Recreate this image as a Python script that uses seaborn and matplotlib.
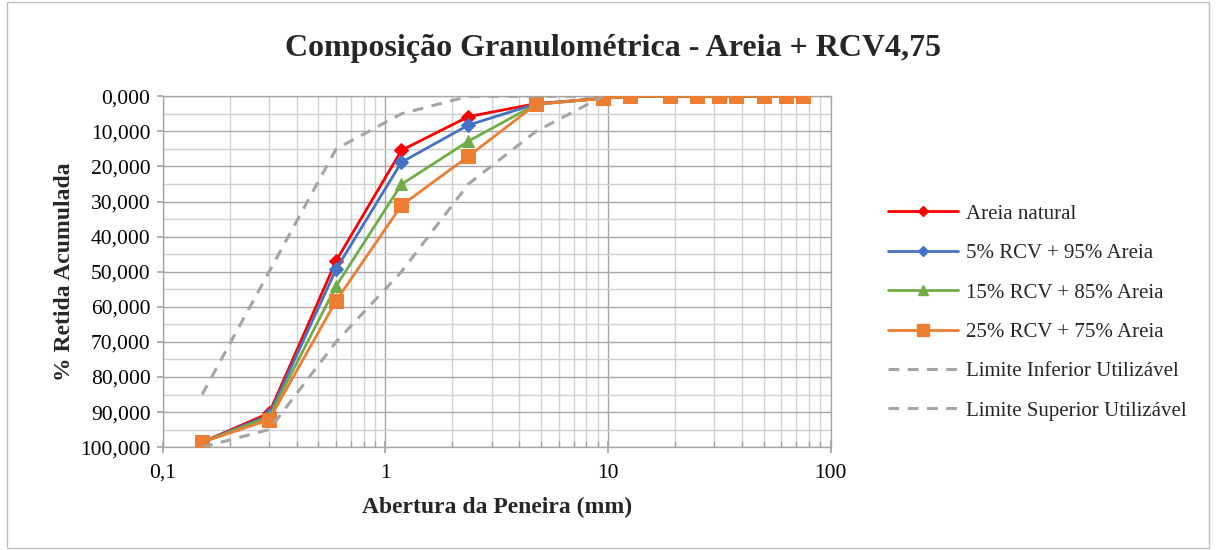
import numpy as np
import pandas as pd
import matplotlib
matplotlib.use("Agg")
import matplotlib.pyplot as plt
import matplotlib.ticker as mticker
from matplotlib.lines import Line2D
from matplotlib.patches import Rectangle
import seaborn as sns

# ---------------- data ----------------
sieves = [0.15, 0.3, 0.6, 1.18, 2.36, 4.75, 9.5, 12.5, 19, 25, 31.5, 37.5, 50, 63, 75]
areia_natural = [98.6, 90.3, 46.9, 15.4, 5.8, 2.1, 0.6, 0, 0, 0, 0, 0, 0, 0, 0]
rcv5 = [98.6, 90.9, 49.3, 18.8, 8.2, 2.2, 0.6, 0, 0, 0, 0, 0, 0, 0, 0]
rcv15 = [98.6, 91.4, 54.1, 25.1, 12.8, 2.3, 0.6, 0, 0, 0, 0, 0, 0, 0, 0]
rcv25 = [98.6, 92.2, 58.3, 31.1, 17.1, 2.3, 0.6, 0, 0, 0, 0, 0, 0, 0, 0]

lim_sieves = [0.15, 0.3, 0.6, 1.18, 2.36, 4.75, 9.5]
lim_inferior = [85, 50, 15, 5, 0, 0, 0]
lim_superior = [100, 95, 70, 50, 25, 10, 0]

series_names = ["Areia natural", "5% RCV + 95% Areia", "15% RCV + 85% Areia", "25% RCV + 75% Areia"]
series_vals = [areia_natural, rcv5, rcv15, rcv25]
series_colors = ["#FF0000", "#4472C4", "#70AD47", "#ED7D31"]
series_markers = ["D", "D", "^", "s"]
series_msizes = [7, 7, 9, 10]

limit_names = ["Limite Inferior Utilizável", "Limite Superior Utilizável"]
limit_vals = [lim_inferior, lim_superior]

title = "Composição Granulométrica - Areia + RCV4,75"
xlabel = "Abertura da Peneira (mm)"
ylabel = "% Retida Acumulada"

# ---------------- plot ----------------
sns.set_theme(style="white")
plt.rcParams["font.family"] = ["Liberation Serif", "DejaVu Serif"]

fig = plt.figure(figsize=(12.16, 5.5), dpi=100)
ax = fig.add_axes([0.134, 0.187, 0.549, 0.638])

handles = []
for name, vals, c, m, ms in zip(series_names, series_vals, series_colors, series_markers, series_msizes):
    df = pd.DataFrame({"x": sieves, "y": vals})
    sns.lineplot(data=df, x="x", y="y", ax=ax, color=c, marker=m, markersize=ms,
                 markeredgecolor=c, linewidth=2.0, estimator=None, sort=False, zorder=3)
    handles.append(Line2D([], [], color=c, marker=m, markersize=ms * 0.8,
                          markeredgecolor=c, linewidth=2.0, label=name))

for name, vals in zip(limit_names, limit_vals):
    df = pd.DataFrame({"x": lim_sieves, "y": vals})
    sns.lineplot(data=df, x="x", y="y", ax=ax, color="#A5A5A5", linewidth=2.2,
                 linestyle=(0, (3.5, 2.8)), estimator=None, sort=False, zorder=4)
    handles.append(Line2D([], [], color="#A5A5A5", linewidth=2.2,
                          linestyle=(0, (3.5, 2.8)), label=name))

ax.set_xscale("log")
ax.set_xlim(0.1, 100)
ax.set_ylim(100, 0)
ax.yaxis.set_major_locator(mticker.MultipleLocator(10))
ax.yaxis.set_minor_locator(mticker.MultipleLocator(5))
ax.yaxis.set_major_formatter(mticker.FuncFormatter(lambda v, p: f"{v:.3f}".replace(".", ",")))
ax.xaxis.set_major_locator(mticker.LogLocator(base=10, numticks=10))
ax.xaxis.set_minor_locator(mticker.LogLocator(base=10, subs=np.arange(2, 10), numticks=20))
ax.xaxis.set_major_formatter(mticker.FuncFormatter(lambda v, p: ("0,1" if v < 0.5 else f"{v:g}")))
ax.xaxis.set_minor_formatter(mticker.NullFormatter())

ax.grid(which="major", color="#A6A6A6", linewidth=1.0, zorder=0)
ax.grid(which="minor", color="#D0D0D0", linewidth=1.0, zorder=0)
ax.set_axisbelow(True)

for s in ax.spines.values():
    s.set_color("#A6A6A6")
    s.set_linewidth(1.0)

ax.tick_params(axis="y", which="major", direction="out", length=4, color="#A6A6A6",
               left=True, labelsize=15.5, pad=5, labelcolor="black")
ax.tick_params(axis="y", which="minor", left=False)
ax.tick_params(axis="x", which="major", direction="inout", length=8, color="#A6A6A6",
               bottom=True, labelsize=15.5, pad=8, labelcolor="black")
ax.tick_params(axis="x", which="minor", direction="in", length=4, color="#A6A6A6", bottom=True)

ax.set_xlabel(xlabel, fontsize=17, fontweight="bold", labelpad=10)
ax.set_ylabel(ylabel, fontsize=17, fontweight="bold", labelpad=4)

fig.text(0.504, 0.912, title, ha="center", va="center", fontsize=23, fontweight="bold")

leg = fig.legend(handles=handles, loc="center left", bbox_to_anchor=(0.715, 0.432),
                 frameon=False, fontsize=15, handlelength=3.35, labelspacing=0.95,
                 handletextpad=0.4)

fig.add_artist(Rectangle((0.006, 0.003), 0.988, 0.994, transform=fig.transFigure,
                         fill=False, edgecolor="#BFBFBF", linewidth=1.0))

fig.savefig("out.png", dpi=100)
